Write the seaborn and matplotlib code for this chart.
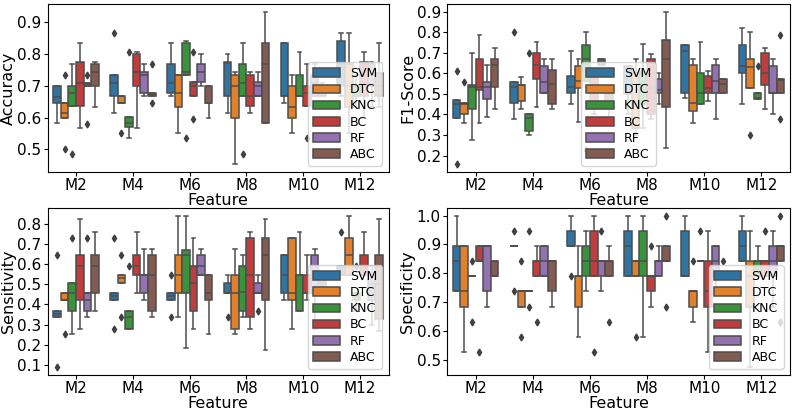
import numpy as np
import pandas as pd
import matplotlib
matplotlib.use("Agg")
import matplotlib.pyplot as plt
from matplotlib.ticker import MultipleLocator
import seaborn as sns

features = ["M2", "M4", "M6", "M8", "M10", "M12"]
models = ["SVM", "DTC", "KNC", "BC", "RF", "ABC"]

# each box: [min, q1, median, q3, max], one list per feature
accuracy = {
    "SVM": [[0.583, 0.647, 0.666, 0.70, 0.70], [0.613, 0.667, 0.71, 0.733, 0.867], [0.667, 0.678, 0.71, 0.767, 0.833],
            [0.613, 0.667, 0.77, 0.773, 0.80], [0.647, 0.667, 0.667, 0.833, 0.833], [0.667, 0.70, 0.767, 0.84, 0.867]],
    "DTC": [[0.50, 0.60, 0.614, 0.647, 0.733], [0.55, 0.647, 0.647, 0.667, 0.667], [0.55, 0.633, 0.678, 0.733, 0.733],
            [0.453, 0.60, 0.70, 0.733, 0.743], [0.55, 0.60, 0.633, 0.70, 0.733], [0.55, 0.633, 0.70, 0.767, 0.867]],
    "KNC": [[0.487, 0.635, 0.678, 0.70, 0.767], [0.536, 0.57, 0.583, 0.602, 0.806], [0.536, 0.733, 0.743, 0.833, 0.84],
            [0.487, 0.667, 0.71, 0.767, 0.833], [0.667, 0.667, 0.667, 0.733, 0.806], [0.633, 0.667, 0.70, 0.70, 0.733]],
    "BC": [[0.567, 0.635, 0.71, 0.775, 0.833], [0.567, 0.70, 0.743, 0.80, 0.806], [0.595, 0.667, 0.70, 0.713, 0.806],
           [0.613, 0.635, 0.667, 0.733, 0.743], [0.536, 0.635, 0.678, 0.70, 0.767], [0.60, 0.667, 0.733, 0.773, 0.806]],
    "RF": [[0.58, 0.70, 0.707, 0.71, 0.733], [0.667, 0.678, 0.733, 0.743, 0.767], [0.70, 0.713, 0.743, 0.767, 0.80],
           [0.667, 0.667, 0.70, 0.713, 0.743], [0.667, 0.667, 0.71, 0.733, 0.767], [0.633, 0.70, 0.733, 0.767, 0.773]],
    "ABC": [[0.633, 0.70, 0.743, 0.767, 0.773], [0.647, 0.667, 0.673, 0.678, 0.767], [0.60, 0.647, 0.647, 0.70, 0.70],
            [0.583, 0.583, 0.767, 0.833, 0.933], [0.667, 0.667, 0.683, 0.70, 0.71], [0.633, 0.667, 0.70, 0.74, 0.833]],
}

f1_score = {
    "SVM": [[0.157, 0.382, 0.449, 0.47, 0.611], [0.378, 0.457, 0.531, 0.558, 0.80], [0.449, 0.502, 0.531, 0.587, 0.706],
            [0.40, 0.50, 0.625, 0.633, 0.633], [0.478, 0.502, 0.706, 0.738, 0.738], [0.449, 0.60, 0.633, 0.738, 0.82]],
    "DTC": [[0.357, 0.401, 0.449, 0.457, 0.558], [0.425, 0.467, 0.545, 0.545, 0.582], [0.365, 0.526, 0.561, 0.637, 0.667],
            [0.30, 0.333, 0.45, 0.60, 0.667], [0.357, 0.417, 0.457, 0.641, 0.667], [0.30, 0.526, 0.63, 0.667, 0.80]],
    "KNC": [[0.277, 0.425, 0.531, 0.545, 0.70], [0.30, 0.317, 0.382, 0.40, 0.70], [0.226, 0.561, 0.667, 0.738, 0.80],
            [0.333, 0.45, 0.55, 0.607, 0.74], [0.449, 0.449, 0.502, 0.60, 0.75], [0.475, 0.475, 0.478, 0.502, 0.637]],
    "BC": [[0.357, 0.521, 0.531, 0.667, 0.786], [0.437, 0.571, 0.638, 0.70, 0.75], [0.40, 0.45, 0.60, 0.61, 0.61],
           [0.378, 0.40, 0.526, 0.667, 0.695], [0.465, 0.502, 0.526, 0.587, 0.611], [0.425, 0.542, 0.603, 0.70, 0.722]],
    "RF": [[0.385, 0.475, 0.531, 0.558, 0.642], [0.502, 0.502, 0.558, 0.633, 0.667], [0.641, 0.641, 0.66, 0.667, 0.667],
           [0.449, 0.502, 0.52, 0.571, 0.603], [0.378, 0.502, 0.561, 0.641, 0.667], [0.40, 0.502, 0.502, 0.633, 0.667]],
    "ABC": [[0.425, 0.531, 0.638, 0.667, 0.722], [0.425, 0.449, 0.55, 0.617, 0.667], [0.36, 0.45, 0.50, 0.527, 0.527],
            [0.237, 0.437, 0.667, 0.762, 0.90], [0.502, 0.502, 0.55, 0.571, 0.571], [0.378, 0.502, 0.567, 0.571, 0.786]],
}

sensitivity = {
    "SVM": [[0.089, 0.34, 0.354, 0.367, 0.642], [0.278, 0.424, 0.44, 0.459, 0.73], [0.34, 0.424, 0.44, 0.459, 0.548],
            [0.34, 0.459, 0.459, 0.504, 0.548], [0.424, 0.459, 0.548, 0.642, 0.642], [0.548, 0.548, 0.548, 0.588, 0.758]],
    "DTC": [[0.254, 0.424, 0.424, 0.459, 0.459], [0.34, 0.508, 0.53, 0.548, 0.642], [0.34, 0.459, 0.548, 0.642, 0.839],
            [0.254, 0.278, 0.459, 0.548, 0.674], [0.278, 0.424, 0.459, 0.73, 0.73], [0.548, 0.548, 0.642, 0.73, 0.839]],
    "KNC": [[0.254, 0.367, 0.459, 0.504, 0.73], [0.278, 0.278, 0.34, 0.367, 0.588], [0.186, 0.459, 0.642, 0.671, 0.839],
            [0.34, 0.367, 0.46, 0.588, 0.642], [0.367, 0.367, 0.548, 0.548, 0.758], [0.367, 0.42, 0.44, 0.459, 0.588]],
    "BC": [[0.278, 0.424, 0.588, 0.642, 0.823], [0.459, 0.548, 0.588, 0.642, 0.758], [0.278, 0.367, 0.504, 0.588, 0.73],
           [0.278, 0.34, 0.548, 0.73, 0.758], [0.424, 0.459, 0.459, 0.548, 0.642], [0.548, 0.548, 0.588, 0.642, 0.758]],
    "RF": [[0.34, 0.367, 0.42, 0.459, 0.73], [0.424, 0.459, 0.548, 0.548, 0.674], [0.548, 0.548, 0.588, 0.642, 0.674],
           [0.367, 0.459, 0.459, 0.504, 0.548], [0.278, 0.459, 0.548, 0.642, 0.674], [0.30, 0.42, 0.50, 0.548, 0.588]],
    "ABC": [[0.367, 0.459, 0.588, 0.642, 0.758], [0.34, 0.367, 0.548, 0.642, 0.674], [0.254, 0.424, 0.459, 0.548, 0.548],
            [0.173, 0.424, 0.642, 0.73, 0.823], [0.459, 0.459, 0.504, 0.548, 0.548], [0.27, 0.33, 0.50, 0.642, 0.823]],
}

specificity = {
    "SVM": [[0.737, 0.737, 0.842, 0.895, 1.0], [0.737, 0.895, 0.895, 0.895, 0.947], [0.789, 0.895, 0.895, 0.947, 1.0],
            [0.789, 0.789, 0.895, 0.947, 1.0], [0.789, 0.789, 0.789, 0.947, 1.0], [0.842, 0.842, 0.895, 0.947, 1.0]],
    "DTC": [[0.526, 0.684, 0.737, 0.895, 0.895], [0.579, 0.684, 0.737, 0.737, 0.842], [0.579, 0.684, 0.789, 0.789, 0.895],
            [0.579, 0.789, 0.842, 0.842, 0.842], [0.632, 0.684, 0.737, 0.737, 0.842], [0.474, 0.684, 0.789, 0.842, 0.947]],
    "KNC": [[0.632, 0.789, 0.789, 0.789, 0.842], [0.684, 0.737, 0.737, 0.737, 0.947], [0.737, 0.789, 0.842, 0.895, 0.947],
            [0.579, 0.789, 0.842, 0.947, 1.0], [0.842, 0.842, 0.842, 0.842, 0.947], [0.789, 0.789, 0.842, 0.842, 0.895]],
    "BC": [[0.526, 0.842, 0.842, 0.895, 0.895], [0.632, 0.789, 0.842, 0.842, 0.895], [0.526, 0.789, 0.842, 0.947, 1.0],
           [0.684, 0.737, 0.789, 0.789, 0.895], [0.526, 0.684, 0.737, 0.842, 0.947], [0.789, 0.789, 0.842, 0.842, 0.947]],
    "RF": [[0.684, 0.737, 0.895, 0.895, 0.895], [0.789, 0.789, 0.842, 0.895, 0.895], [0.737, 0.789, 0.842, 0.842, 0.947],
           [0.789, 0.789, 0.842, 0.842, 0.895], [0.737, 0.789, 0.842, 0.895, 0.895], [0.684, 0.789, 0.842, 0.895, 0.947]],
    "ABC": [[0.789, 0.789, 0.789, 0.842, 0.842], [0.684, 0.737, 0.842, 0.842, 0.842], [0.632, 0.789, 0.842, 0.842, 0.895],
            [0.684, 0.842, 0.842, 0.895, 1.0], [0.737, 0.789, 0.789, 0.789, 0.842], [0.632, 0.842, 0.895, 0.895, 1.0]],
}


def to_frame(metric):
    rows = []
    for model in models:
        for feat, vals in zip(features, metric[model]):
            for v in vals:
                rows.append({"Feature": feat, "Model": model, "value": v})
    return pd.DataFrame(rows)


panels = [
    (accuracy, "Accuracy", "lower right"),
    (f1_score, "F1-Score", "lower center"),
    (sensitivity, "Sensitivity", "lower right"),
    (specificity, "Specificity", "lower right"),
]

fig = plt.figure(figsize=(7.93, 4.12), dpi=100)
positions = [
    [0.06, 0.5825, 0.43, 0.408],
    [0.5637, 0.5825, 0.4325, 0.408],
    [0.06, 0.09, 0.43, 0.405],
    [0.5637, 0.09, 0.4325, 0.405],
]

for (metric, ylabel, loc), pos in zip(panels, positions):
    ax = fig.add_axes(pos)
    df = to_frame(metric)
    sns.boxplot(data=df, x="Feature", y="value", hue="Model", order=features, hue_order=models,
                ax=ax, linewidth=1.1, linecolor="0.3",
                flierprops=dict(marker="d", markersize=3.5, markerfacecolor="0.25",
                                markeredgecolor="0.25"))
    ax.yaxis.set_major_locator(MultipleLocator(0.1))
    ax.set_ylabel(ylabel, fontsize=11.5, labelpad=1)
    ax.set_xlabel("Feature", fontsize=11.5, labelpad=0)
    ax.tick_params(labelsize=11, pad=1.5, length=3)
    ax.legend(loc=loc, fontsize=9, labelspacing=0.25, handlelength=2.2, borderpad=0.4)

fig.savefig("out.png", dpi=100)
